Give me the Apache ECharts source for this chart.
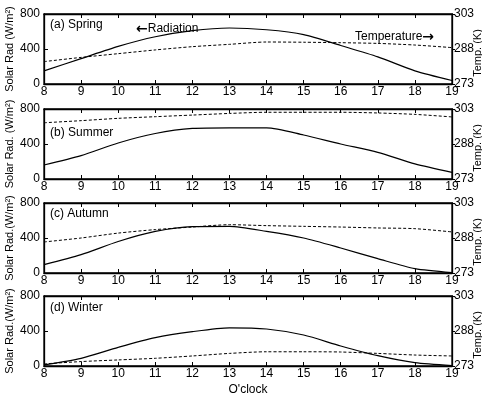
<!DOCTYPE html>
<html>
<head>
<meta charset="utf-8">
<script src="https://cdn.jsdelivr.net/npm/echarts@6/dist/echarts.min.js"></script>
<style>html,body{margin:0;padding:0;background:#fff}#c{width:482px;height:395px}</style>
</head>
<body>
<div id="c"></div>
<script>
var hours = [8, 9, 10, 11, 12, 13, 14, 15, 16, 17, 18, 19];
var seasons = ['(a) Spring', '(b) Summer', '(c) Autumn', '(d) Winter'];
var radSpring = [150, 290, 430, 540, 610, 640, 620, 565, 440, 310, 150, 40];
var radSummer = [160, 267, 412, 520, 578, 585, 585, 503, 400, 305, 172, 76];
var radAutumn = [95, 210, 360, 475, 530, 533, 476, 400, 286, 164, 50, 5];
var radWinter = [12, 88, 213, 324, 392, 436, 423, 354, 229, 118, 38, 5];
var tempSpring = [282.6, 284.4, 286.0, 287.6, 289.0, 290.0, 291.0, 290.9, 290.7, 290.4, 289.7, 288.6];
var tempSummer = [297.1, 298.0, 299.0, 299.7, 300.4, 301.1, 301.6, 301.6, 301.6, 301.3, 300.7, 299.6];
var tempAutumn = [286.3, 288.0, 290.1, 291.6, 292.7, 293.7, 293.3, 293.0, 292.7, 292.3, 292.0, 290.6];
var tempWinter = [273.9, 274.9, 275.6, 276.3, 277.3, 278.4, 279.1, 279.1, 279.0, 278.4, 277.7, 277.3];
var radLabels = ['Solar Rad (W/m\u00b2)', 'Solar Rad. (W/m\u00b2)', 'Solar Rad.(W/m\u00b2)', 'Solar Rad.(W/m\u00b2)'];
var tempLabel = 'Temp. (K)';
var xName = "O'clock";

var rads = [radSpring, radSummer, radAutumn, radWinter];
var temps = [tempSpring, tempSummer, tempAutumn, tempWinter];
var tops = [14, 109, 203, 296];
var labelOffsets = [5, 18, 5, 6];
var H = 70;
var font = 'Liberation Sans, Arial, sans-serif';

var grids = [], xAxes = [], yAxes = [], series = [], graphics = [];
function pairs(v) { return hours.map(function (h, i) { return [h, v[i]]; }); }

for (var g = 0; g < 4; g++) {
  grids.push({ left: 44, right: 30, top: tops[g], height: H, containLabel: false, outerBoundsMode: 'none',
    show: true, borderColor: '#000', borderWidth: 1.3, backgroundColor: 'transparent' });
  xAxes.push({
    gridIndex: g, type: 'value', min: 8, max: 19, interval: 1, position: 'bottom',
    name: g === 3 ? xName : '', nameLocation: 'middle', nameGap: 18,
    nameTextStyle: { fontFamily: font, fontSize: 12, color: '#000' },
    axisLine: { lineStyle: { color: '#000', width: 1.3 } },
    axisTick: { inside: true, length: 4, lineStyle: { color: '#000' } },
    axisLabel: { margin: 2, fontFamily: font, fontSize: 12, color: '#000' },
    splitLine: { show: false }
  });
  xAxes.push({
    gridIndex: g, type: 'value', min: 8, max: 19, interval: 1, position: 'top',
    axisLine: { lineStyle: { color: '#000', width: 1.3 } },
    axisTick: { inside: true, length: 4, lineStyle: { color: '#000' } },
    axisLabel: { show: false }, splitLine: { show: false }
  });
  yAxes.push({
    gridIndex: g, type: 'value', min: 0, max: 800, interval: 400, position: 'left',
    axisLine: { show: true, lineStyle: { color: '#000', width: 1.3 } },
    axisTick: { show: true, inside: true, length: 4, lineStyle: { color: '#000' } },
    axisLabel: { margin: 4, fontFamily: font, fontSize: 12, color: '#000' },
    splitLine: { show: false }
  });
  yAxes.push({
    gridIndex: g, type: 'value', min: 273, max: 303, interval: 15, position: 'right',
    axisLine: { show: true, lineStyle: { color: '#000', width: 1.3 } },
    axisTick: { show: true, inside: false, length: 3, lineStyle: { color: '#000' } },
    axisLabel: { margin: 2, fontFamily: font, fontSize: 12, color: '#000' },
    splitLine: { show: false }
  });
  series.push({
    type: 'line', xAxisIndex: 2 * g, yAxisIndex: 2 * g, data: pairs(rads[g]),
    smooth: 0.25, symbol: 'none', lineStyle: { color: '#000', width: 1.2 }
  });
  series.push({
    type: 'line', xAxisIndex: 2 * g, yAxisIndex: 2 * g + 1, data: pairs(temps[g]),
    smooth: 0.25, symbol: 'none', lineStyle: { color: '#000', width: 1, type: [3, 2] }
  });
  graphics.push({ type: 'text', left: 50, top: tops[g] + labelOffsets[g], style: { text: seasons[g], font: '12px ' + font, fill: '#000' } });
  graphics.push({ type: 'text', x: 10, y: tops[g] + H / 2, rotation: Math.PI / 2,
    style: { text: radLabels[g], font: '11px ' + font, fill: '#000', align: 'center', verticalAlign: 'middle' } });
  graphics.push({ type: 'text', x: 478, y: tops[g] + H / 2 + 4, rotation: Math.PI / 2,
    style: { text: tempLabel, font: '11px ' + font, fill: '#000', align: 'center', verticalAlign: 'middle' } });
}
graphics.push({ type: 'text', left: 136, top: 22, style: {
  text: '{a|\u2190}Radiation', font: '12px ' + font, fill: '#000',
  rich: { a: { fontFamily: 'DejaVu Sans', fontSize: 14, fontWeight: 'bold', fill: '#000' } } } });
graphics.push({ type: 'text', left: 355, top: 30, style: {
  text: 'Temperature{a|\u2192}', font: '12px ' + font, fill: '#000',
  rich: { a: { fontFamily: 'DejaVu Sans', fontSize: 14, fontWeight: 'bold', fill: '#000' } } } });

var chart = echarts.init(document.getElementById('c'));
chart.setOption({
  animation: false,
  grid: grids, xAxis: xAxes, yAxis: yAxes, series: series, graphic: graphics
});
</script>
</body>
</html>
